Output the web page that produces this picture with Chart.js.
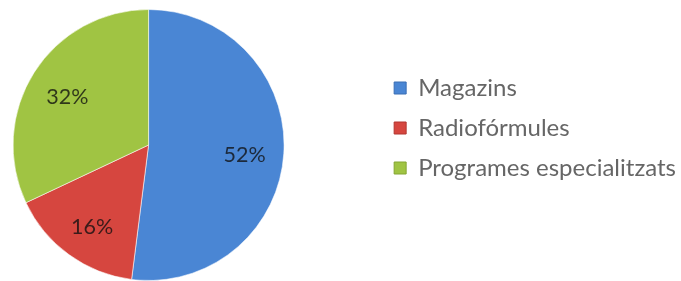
<!DOCTYPE html>
<html>
<head>
<meta charset="utf-8">
<title>Magazins / Radiofórmules / Programes especialitzats</title>
<script src="https://cdn.jsdelivr.net/npm/chart.js@4/dist/chart.umd.min.js"></script>
<style>
  html, body { margin:0; padding:0; background:#fff; overflow:hidden; }
  body { width:681px; height:281px; position:relative; }
  /* canvas is a bit wider than the window so the pie sits left like the original */
  #wrap { width:767px; height:281px; position:absolute; left:-81px; top:0; }
</style>
</head>
<body>
<div id="wrap"><canvas id="chart-pie"></canvas></div>
<script>
// ============================================================
//  DATA
// ============================================================
var categories = ['Magazins', 'Radiofórmules', 'Programes especialitzats'];
var shares = [52, 16, 32];
var sliceColors = ['#4a86d4', '#d6463f', '#a0c443'];
var rimColors = ['#3a6eb4', '#b23530', '#84a632'];

// radial shading like the old office pies: flat face, darker rim
function sliceFill(ctx) {
  var chart = ctx.chart;
  var i = ctx.dataIndex;
  var meta = chart.getDatasetMeta(0);
  var arc = meta.data[i];
  if (!arc || !arc.outerRadius) return sliceColors[i];
  var g = chart.ctx.createRadialGradient(arc.x, arc.y, 0, arc.x, arc.y, arc.outerRadius);
  g.addColorStop(0, sliceColors[i]);
  g.addColorStop(0.88, sliceColors[i]);
  g.addColorStop(1, rimColors[i]);
  return g;
}

// percentage labels inside each slice
var sliceLabels = {
  id: 'sliceLabels',
  afterDatasetsDraw: function(chart) {
    var c = chart.ctx;
    var meta = chart.getDatasetMeta(0);
    c.save();
    c.font = '21.5px Lato, "Open Sans", sans-serif';
    c.fillStyle = 'rgba(15,15,15,0.78)';
    c.textAlign = 'center';
    c.textBaseline = 'middle';
    meta.data.forEach(function(arc, i) {
      var mid = (arc.startAngle + arc.endAngle) / 2;
      var r = arc.outerRadius * 0.71;
      c.fillText(shares[i] + '%', arc.x + Math.cos(mid) * r, arc.y + Math.sin(mid) * r + 4);
    });
    c.restore();
  }
};

new Chart(document.getElementById('chart-pie'), {
  type: 'pie',
  data: {
    labels: categories,
    datasets: [{
      data: shares,
      backgroundColor: sliceFill,
      borderColor: 'rgba(255,255,255,0.55)',
      borderWidth: 1
    }]
  },
  options: {
    responsive: true,
    maintainAspectRatio: false,
    animation: false,
    layout: { padding: { top: 9, bottom: 0, left: 0, right: 0 } },
    plugins: {
      tooltip: { enabled: false },
      legend: {
        position: 'right',
        align: 'start',
        title: { display: true, text: '', font: { size: 10 }, padding: { top: 19, bottom: 20 } },
        labels: {
          boxWidth: 12,
          boxHeight: 12,
          padding: 16,
          color: '#3c3c3c',
          font: { family: 'Lato, "Open Sans", sans-serif', size: 24 },
          generateLabels: function(chart) {
            return categories.map(function(name, i) {
              return { text: name, fillStyle: sliceColors[i], strokeStyle: rimColors[i], lineWidth: 1, index: i, hidden: false };
            });
          }
        }
      }
    }
  },
  plugins: [sliceLabels]
});
</script>
</body>
</html>
